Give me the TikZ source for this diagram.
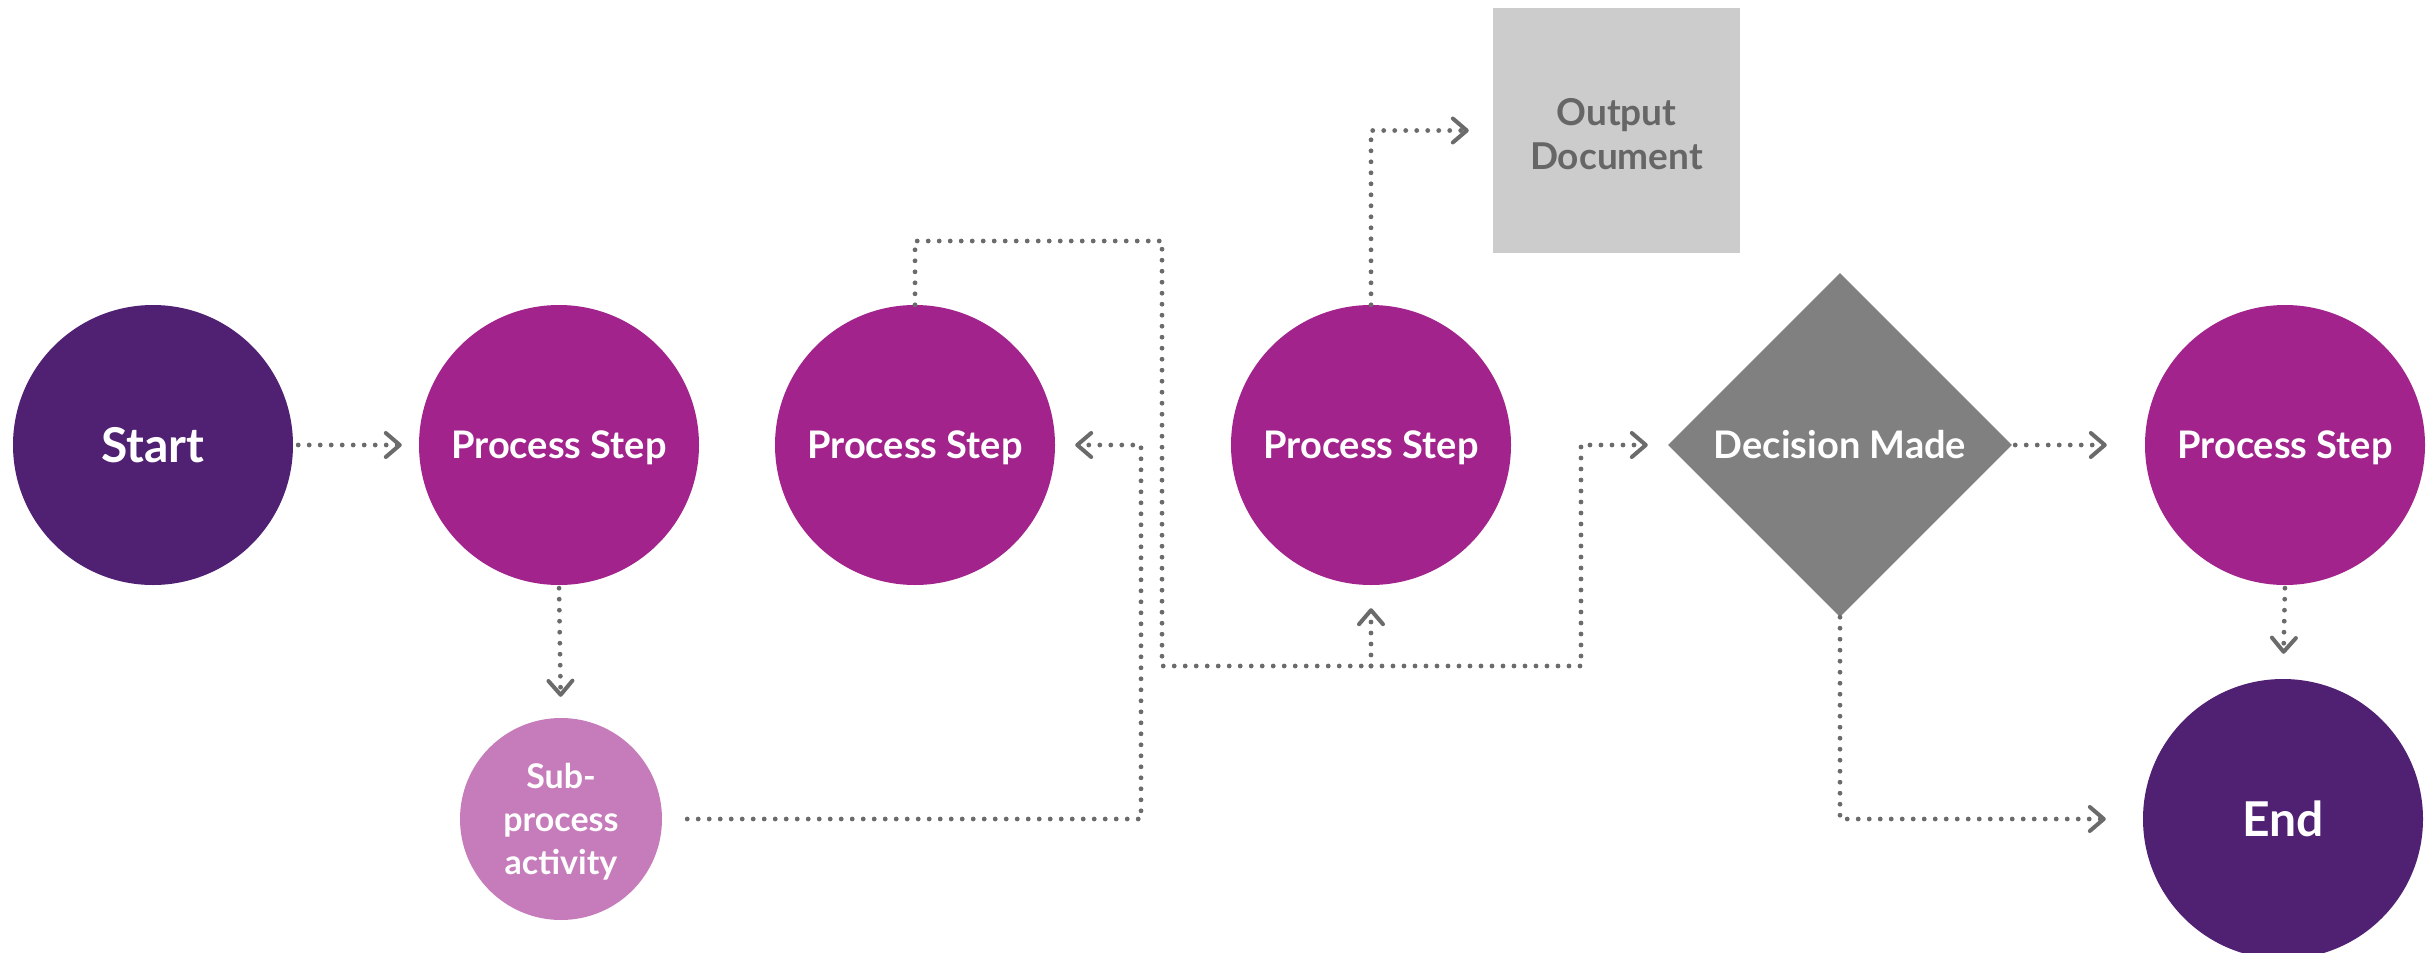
\documentclass[tikz,border=0pt]{standalone}
\usepackage{fontspec}
\setmainfont{Lato}
\usetikzlibrary{shapes.geometric,arrows.meta}

\definecolor{deep}{HTML}{502072}
\definecolor{plum}{HTML}{A1238B}
\definecolor{orchid}{HTML}{C67CBA}
\definecolor{decgray}{HTML}{808080}
\definecolor{docgray}{HTML}{CCCCCC}
\definecolor{doctext}{HTML}{666666}
\definecolor{linegray}{HTML}{6B6B6B}

\begin{document}
\begin{tikzpicture}[x=1pt,y=-1pt,
  bubble/.style={circle, inner sep=0pt, minimum size=280pt, fill=plum, text=white,
    text height=27.2pt, text depth=0pt,
    font=\bfseries\fontsize{38}{44}\selectfont},
  terminal/.style={bubble, fill=deep, text height=34.4pt, text depth=0pt,
    font=\bfseries\fontsize{48}{56}\selectfont},
  subbubble/.style={circle, inner sep=0pt, minimum size=202pt, fill=orchid, text=white,
    align=center, text depth=0pt, font=\bfseries\fontsize{34}{43}\selectfont},
  decision/.style={diamond, inner sep=0pt, minimum width=344pt, minimum height=344pt,
    fill=decgray, text=white, text height=27.2pt, text depth=0pt,
    font=\bfseries\fontsize{38}{44}\selectfont},
  docbox/.style={rectangle, inner sep=0pt, minimum width=247pt, minimum height=245pt,
    fill=docgray, text=doctext, align=center, text height=78pt, text depth=0pt,
    font=\bfseries\fontsize{37}{44}\selectfont},
  flow/.style={draw=linegray, line width=4.8pt, line cap=round, dash pattern=on 0pt off 11pt},
  tip/.style={flow, -{Straight Barb[length=14pt,width=24pt,line width=4pt,round]}}
]
\useasboundingbox (0,0) rectangle (2429,953);

% nodes
\node[terminal] (start) at (153,445) {Start};
\node[bubble] (ps1) at (559,445) {Process Step};
\node[bubble] (ps2) at (915,445) {Process Step};
\node[bubble] (ps3) at (1371,445) {Process Step};
\node[decision] (dec) at (1840,445) {Decision Made};
\node[bubble] (ps4) at (2285,445) {Process Step};
\node[subbubble] (sub) at (561,819) {Sub-\\process\\activity};
\node[terminal] (end) at (2283,819) {End};
\node[docbox] (doc) at (1616.5,130.5) {Output\\Document};

% routing corners
\coordinate (subR) at (1141,819);
\coordinate (loopL) at (915,241);
\coordinate (loopR) at (1162,241);
\coordinate (busL) at (1162,666);
\coordinate (busM) at (1371,666);
\coordinate (busR) at (1581,666);

% connectors
\draw[tip, shorten <=5pt, shorten >=17pt] (start) -- (ps1);
\draw[tip, shorten <=3pt, shorten >=21pt] (ps1.south) -- (sub.north);
\draw[tip, shorten <=25pt, shorten >=20pt] (sub.east) -- (subR) |- (ps2.east);
\draw[flow] (ps2.north) -- (loopL) -- (loopR) -- (busL) -- (busM);
\draw[tip, shorten >=23pt] (busM) -- (ps3.south);
\draw[tip, shorten >=20pt] (busM) -- (busR) |- (dec.west);
\draw[tip, shorten >=24pt] (ps3.north) |- (doc.west);
\draw[tip, shorten <=3pt, shorten >=38pt] (dec.east) -- (ps4.west);
\draw[tip, shorten <=3pt, shorten >=25pt] (ps4.south) -- (end.north);
\draw[tip, shorten >=37pt] (dec.south) |- (end.west);
\end{tikzpicture}
\end{document}
